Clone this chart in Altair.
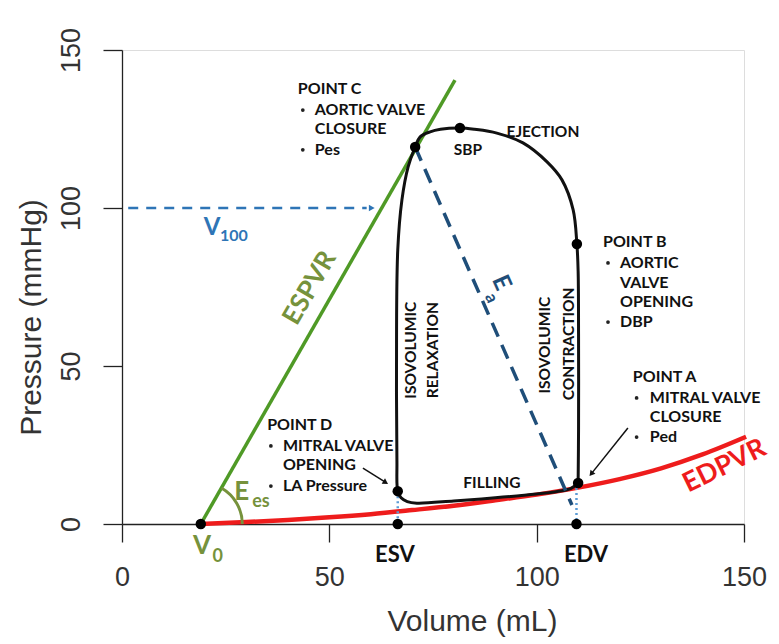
import altair as alt
import pandas as pd

# ---------------- data ----------------
# Pressure-volume loop (order: A -> B -> SBP -> C -> D -> A)
loop_v = [110.0, 110.1, 110.1, 110.0, 109.7, 108.8, 106.1, 102.5, 96.7, 90.4, 85.0, 81.5,
          76.8, 74.3, 71.9, 70.7, 69.0, 67.5, 66.5, 66.2, 66.3, 66.5, 67.3, 68.8, 71.1,
          80.0, 90.0, 100.0, 105.0, 108.3, 110.0]
loop_p = [13.0, 30.0, 60.0, 80.0, 88.6, 99.4, 108.9, 114.6, 120.6, 123.7, 124.9, 125.3,
          124.9, 124.1, 122.5, 119.3, 113.0, 102.5, 86.7, 50.0, 20.0, 10.4, 8.3, 7.1, 6.6,
          7.3, 8.3, 9.5, 10.3, 11.3, 13.0]

# ESPVR (straight line from V0)
espvr_v = [19.0, 80.3]
espvr_p = [0.0, 140.5]

# EDPVR
edpvr_v = [19, 30, 40, 50, 60, 70, 80, 90, 100, 110, 120, 130, 140, 150.5]
edpvr_p = [0.0, 0.6, 1.3, 2.1, 3.1, 4.4, 5.8, 7.5, 9.3, 11.5, 14.2, 17.6, 22.0, 27.6]

# Ea dashed line
ea_v = [70.7, 108.5]
ea_p = [119.3, 6.0]

# V100 dashed arrow
v100_v = [1.5, 59.0]
v100_p = [100.0, 100.0]

# dotted drops to the volume axis
esv_drop_v = [66.5, 66.5]
esv_drop_p = [10.4, 0.0]
edv_drop_v = [109.6, 109.6]
edv_drop_p = [13.0, 0.0]

# black key points
dot_names = ["V0", "ESV", "EDV", "D", "A", "B", "C", "SBP"]
dot_v = [19.0, 66.5, 109.6, 66.5, 110.0, 109.7, 70.7, 81.5]
dot_p = [0.0, 0.0, 0.0, 10.4, 13.0, 88.6, 119.3, 125.3]

# annotation arrows (start -> end)
arrow_v0 = [58.1, 122.0]
arrow_p0 = [17.7, 30.4]
arrow_v1 = [63.4, 113.3]
arrow_p1 = [13.3, 16.1]
arrow_angle = [122, 219]

# ---------------- text annotations ----------------
head_text = ["POINT C", "AORTIC VALVE", "CLOSURE", "Pes",
             "POINT B", "AORTIC", "VALVE", "OPENING", "DBP",
             "POINT A", "MITRAL VALVE", "CLOSURE", "Ped",
             "POINT D", "MITRAL VALVE", "OPENING", "LA Pressure"]
head_v = [42.4, 46.5, 46.5, 46.5,
          116.0, 120.1, 120.1, 120.1, 120.1,
          123.2, 127.3, 127.3, 127.3,
          35.0, 38.8, 38.8, 38.8]
head_p = [137.7, 131.0, 125.0, 118.4,
          89.2, 82.6, 76.3, 70.3, 63.9,
          46.5, 39.9, 33.9, 27.5,
          31.3, 24.7, 18.7, 12.0]

bullet_v = [43.6, 43.6, 117.2, 117.2, 124.1, 124.1, 35.9, 35.9]
bullet_p = [131.0, 118.4, 82.6, 63.9, 39.9, 27.5, 24.7, 12.0]

center_text = ["SBP", "EJECTION", "FILLING"]
center_v = [83.4, 101.5, 89.2]
center_p = [118.4, 124.1, 13.0]

vert_text = ["ISOVOLUMIC", "RELAXATION", "ISOVOLUMIC", "CONTRACTION"]
vert_v = [69.8, 75.1, 102.0, 107.7]
vert_p = [55.0, 55.0, 56.6, 57.0]

vol_text = ["ESV", "EDV"]
vol_v = [65.8, 111.9]
vol_p = [-9.8, -9.8]

# ---------------- helpers ----------------
SCALE = alt.Scale(domain=[0, 150], nice=False, zero=False)
X = alt.X("v:Q", scale=SCALE,
          axis=alt.Axis(values=[0, 50, 100, 150], title="Volume (mL)", grid=False,
                        tickSize=18, tickWidth=1.3, domainWidth=1.3,
                        domainColor="#222", tickColor="#222",
                        labelFont="Liberation Sans", labelFontSize=27, labelColor="#333",
                        labelPadding=22, labelFlush=False, labelOverlap=False,
                        titleFont="Liberation Sans", titleFontSize=30,
                        titleFontWeight="normal", titleColor="#333",
                        titleX=350, titleY=106, titleBaseline="alphabetic"))
Y = alt.Y("p:Q", scale=SCALE,
          axis=alt.Axis(values=[0, 50, 100, 150], title="Pressure (mmHg)", grid=False,
                        tickSize=19, tickWidth=1.3, domainWidth=1.3,
                        domainColor="#222", tickColor="#222",
                        labelFont="Liberation Sans", labelFontSize=27, labelColor="#333",
                        labelAngle=270, labelAlign="center", labelBaseline="bottom",
                        labelPadding=18, labelFlush=False, labelOverlap=False,
                        titleFont="Liberation Sans", titleFontSize=30,
                        titleFontWeight="normal", titleColor="#333",
                        titleAngle=270, titleX=-82, titleY=267,
                        titleBaseline="alphabetic"))


def df(v, p, **extra):
    d = pd.DataFrame({"v": v, "p": p})
    for k, val in extra.items():
        d[k] = val
    d["i"] = range(len(d))
    return d


def line(v, p, color, width, dash=None, interp="linear"):
    kw = dict(color=color, strokeWidth=width, interpolate=interp, strokeCap="butt")
    if dash:
        kw["strokeDash"] = dash
    return alt.Chart(df(v, p)).mark_line(**kw).encode(x=X, y=Y, order="i:Q")


GREEN = "#4f9a26"
OLIVE = "#76923c"
RED = "#ee1c1c"
DBLUE = "#1f4e79"
LBLUE = "#2e75b6"
DOT = "#5b9bd5"
FONT = "Lato"

layers = []
layers.append(line(edpvr_v, edpvr_p, RED, 4.5, interp="monotone"))
layers.append(line(esv_drop_v, esv_drop_p, DOT, 2.5, dash=[2, 3]))
layers.append(line(edv_drop_v, edv_drop_p, DOT, 2.5, dash=[2, 3]))
layers.append(line(espvr_v, espvr_p, GREEN, 3.5))
layers.append(line(loop_v, loop_p, "#111", 3, interp="catmull-rom"))
layers.append(line(ea_v, ea_p, DBLUE, 3.5, dash=[15, 9]))
layers.append(line(v100_v, v100_p, LBLUE, 2.5, dash=[10, 8]))

# arrow head on V100
layers.append(alt.Chart(df([60.0], [100.0])).mark_point(
    shape="triangle", filled=True, size=45, angle=90, color=LBLUE, opacity=1).encode(x=X, y=Y))

# Ees arc
layers.append(alt.Chart(df([19.0], [0.0])).mark_arc(
    radius=43, radius2=40, theta=0.52, theta2=1.5708, color=OLIVE).encode(x=X, y=Y))

# annotation arrows: shafts and heads
arr = pd.DataFrame({"v": arrow_v0, "p": arrow_p0, "v2": arrow_v1, "p2": arrow_p1})
layers.append(alt.Chart(arr).mark_rule(color="#111", strokeWidth=1.5).encode(
    x=X, y=Y, x2="v2:Q", y2="p2:Q"))
heads = df(arrow_v1, arrow_p1, ang=arrow_angle)
layers.append(alt.Chart(heads).mark_point(shape="triangle", filled=True, size=40,
                                          color="#111", opacity=1).encode(
    x=X, y=Y, angle=alt.Angle("ang:Q", scale=None)))

# key points
layers.append(alt.Chart(df(dot_v, dot_p, name=dot_names)).mark_circle(
    size=110, color="#000", opacity=1).encode(x=X, y=Y))

# bullets of the annotation lists
layers.append(alt.Chart(df(bullet_v, bullet_p)).mark_circle(
    size=14, color="#222", opacity=1).encode(x=X, y=Y))


def texts(t, v, p, **kw):
    base = dict(font=FONT, fontWeight="bold", color="#111")
    base.update(kw)
    return alt.Chart(df(v, p, t=t)).mark_text(**base).encode(x=X, y=Y, text="t:N")


layers.append(texts(head_text, head_v, head_p, fontSize=16, align="left", baseline="middle"))
layers.append(texts(center_text, center_v, center_p, fontSize=15.5, align="center",
                    baseline="middle"))
layers.append(texts(vert_text, vert_v, vert_p, fontSize=15.5, align="center", baseline="middle",
                    angle=270))
layers.append(texts(vol_text, vol_v, vol_p, fontSize=22, align="center", baseline="middle"))

# coloured labels
layers.append(texts(["ESPVR"], [45.3], [74.7], fontSize=26, align="center", baseline="middle",
                    angle=300, color=OLIVE))
layers.append(texts(["EDPVR"], [145.3], [18.3], fontSize=27, align="center", baseline="middle",
                    angle=334, color=RED))
layers.append(texts(["V"], [21.7], [93.7], fontSize=24, align="center", baseline="middle",
                    color=LBLUE))
layers.append(texts(["100"], [27.0], [91.1], fontSize=16, align="center", baseline="middle",
                    color=LBLUE))
layers.append(texts(["E"], [28.9], [10.1], fontSize=26, align="center", baseline="middle",
                    color=OLIVE))
layers.append(texts(["es"], [33.5], [7.0], fontSize=18, align="center", baseline="middle",
                    color=OLIVE))
layers.append(texts(["V"], [19.3], [-7.0], fontSize=26, align="center", baseline="middle",
                    color=OLIVE))
layers.append(texts(["0"], [23.1], [-10.4], fontSize=18, align="center", baseline="middle",
                    color=OLIVE))
layers.append(texts(["E"], [91.4], [76.3], fontSize=24, align="center", baseline="middle",
                    angle=66, color=DBLUE))
layers.append(texts(["a"], [89.0], [71.5], fontSize=17, align="center", baseline="middle",
                    angle=66, color=DBLUE))

chart = alt.layer(*layers).properties(
    width=622, height=474,
    autosize=alt.AutoSizeParams(type="none"),
    padding={"left": 114, "top": 42, "right": 27, "bottom": 120},
).configure_view(strokeWidth=0).configure(background="white")

chart.save("out.html", embed_options={"renderer": "svg", "actions": False})
